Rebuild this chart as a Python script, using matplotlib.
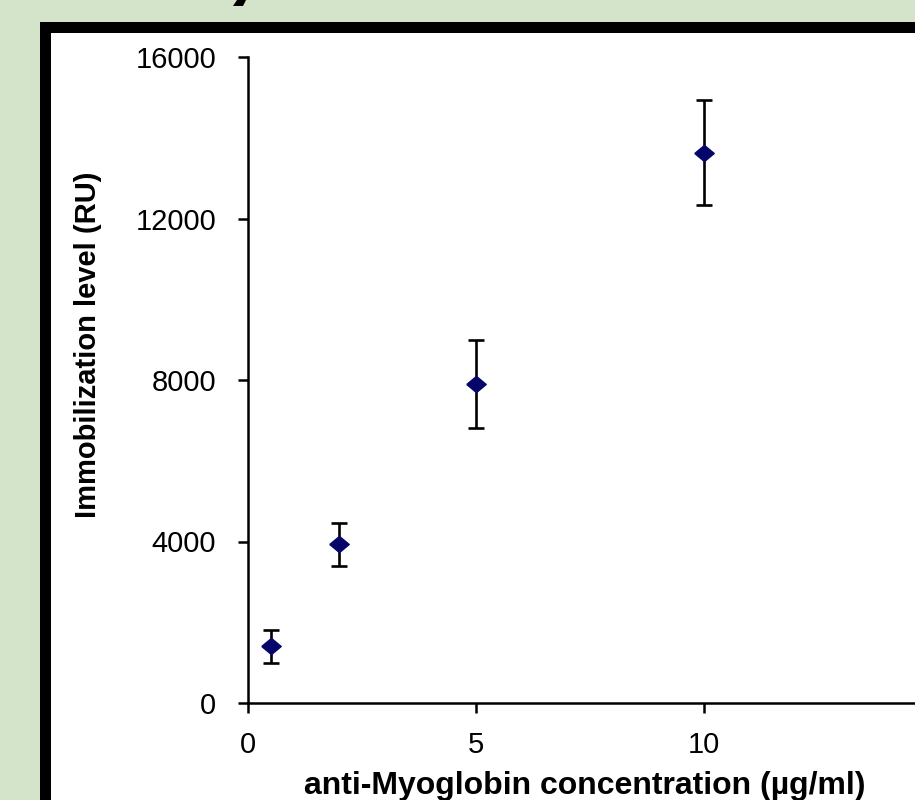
import numpy as np
import matplotlib
matplotlib.use("Agg")
import matplotlib.pyplot as plt
from matplotlib.patches import Rectangle, Polygon

# anti-Myoglobin concentration (ug/ml) vs immobilization level (RU)
conc = [0.5, 2, 5, 10]
level = [1400, 3930, 7900, 13630]
level_err = [400, 530, 1100, 1300]

x_ticks = [0, 5, 10, 15]
y_ticks = [0, 4000, 8000, 12000, 16000]

plt.rcParams["font.family"] = ["Liberation Sans", "DejaVu Sans"]

W, H = 915, 800
fig = plt.figure(figsize=(W / 100, H / 100), dpi=100)
fig.patch.set_facecolor("#d4e4cb")

# slide frame: black border with white panel
fig.patches.append(Rectangle((40 / W, 0), 1, (H - 22) / H, transform=fig.transFigure,
                             facecolor="black", edgecolor="none", zorder=-2))
fig.patches.append(Rectangle((51 / W, 0), 1, (H - 33) / H, transform=fig.transFigure,
                             facecolor="white", edgecolor="none", zorder=-1))
# tail of the clipped slide title glyph
fig.patches.append(Polygon([(233 / W, 1 - 6 / H), (237 / W, 1), (246 / W, 1), (243 / W, 1 - 6 / H)],
                           closed=True, transform=fig.transFigure,
                           facecolor="black", edgecolor="none", zorder=-1))

ax = fig.add_axes([248 / W, 97 / H, 684 / W, 646 / H])
ax.set_zorder(5)
ax.set_facecolor("none")

diamond = [(-1.2, 0), (0, 1), (1.2, 0), (0, -1), (-1.2, 0)]
ax.errorbar(conc, level, yerr=level_err, fmt="none", ecolor="black",
            elinewidth=1.9, capsize=5.5, capthick=1.9, zorder=2)
ax.plot(conc, level, linestyle="none", marker=diamond, markersize=14,
        color="#05056a", zorder=3)

ax.set_xlim(0, 15)
ax.set_ylim(0, 16000)
ax.set_xticks(x_ticks)
ax.set_yticks(y_ticks)
ax.spines["top"].set_visible(False)
ax.spines["right"].set_visible(False)
for s in ("left", "bottom"):
    ax.spines[s].set_linewidth(1.8)
ax.tick_params(direction="out", length=7, width=1.8, labelsize=21)
ax.tick_params(axis="y", pad=16)
ax.tick_params(axis="x", pad=13)

ax.set_xlabel("anti-Myoglobin concentration (µg/ml)", fontsize=23, fontweight="bold")
ax.xaxis.set_label_coords(0.493, -0.105)
ax.set_ylabel("Immobilization level (RU)", fontsize=21, fontweight="bold")
ax.yaxis.set_label_coords(-0.214, 0.554)

fig.savefig("out.png", dpi=100, facecolor=fig.get_facecolor())
